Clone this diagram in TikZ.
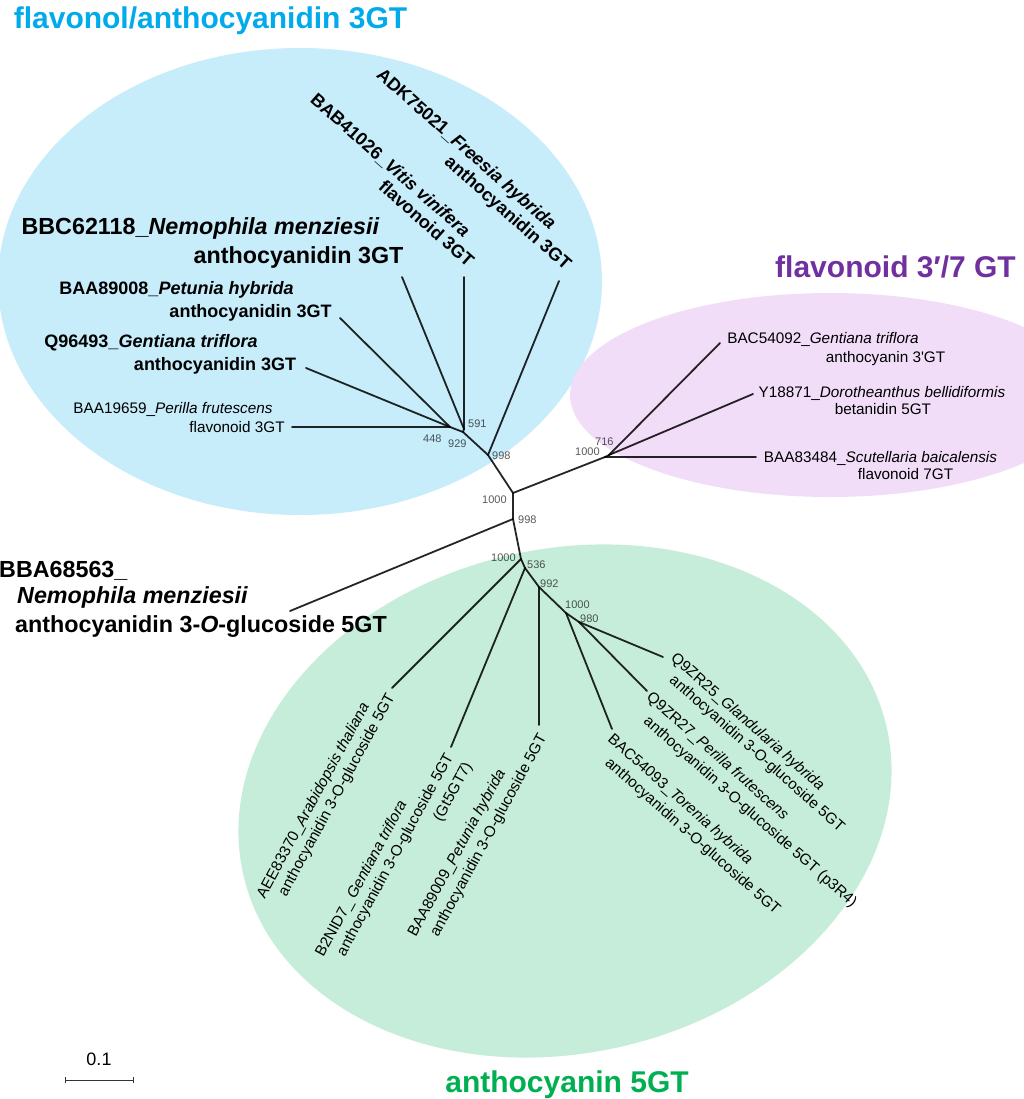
\documentclass[tikz,border=0pt]{standalone}
\usepackage{fontspec}
\setmainfont{Liberation Sans}
\definecolor{bluefill}{RGB}{199,236,250}
\definecolor{purplefill}{RGB}{242,221,249}
\definecolor{greenfill}{RGB}{198,237,218}
\definecolor{bluetitle}{RGB}{0,170,235}
\definecolor{purpletitle}{RGB}{112,48,160}
\definecolor{greentitle}{RGB}{0,176,80}
\tikzset{
 br/.style={draw=black, line width=1.8pt, draw opacity=0.85, line cap=round},
 lab/.style={inner sep=0pt, text=black},
 bigl/.style={lab, font=\fontsize{23.3}{28}\selectfont\bfseries},
 medl/.style={lab, font=\fontsize{18}{21}\selectfont\bfseries},
 sml/.style={lab, font=\fontsize{15.3}{18}\selectfont},
 ttl/.style={inner sep=0pt, anchor=base, font=\fontsize{30}{36}\selectfont\bfseries},
 boot/.style={inner sep=0pt, anchor=base west, font=\fontsize{11}{13}\selectfont, text=black, text opacity=0.65},
}
\begin{document}
\begin{tikzpicture}[x=1pt,y=-1pt]
\useasboundingbox (0,0) rectangle (1024,1099);
\fill[white] (0,0) rectangle (1024,1099);
% cluster ellipses
\fill[bluefill] (300,281.5) ellipse [x radius=302, y radius=233.5];
\fill[purplefill] (830,395) ellipse [x radius=260, y radius=102];
\fill[greenfill, rotate around={13:(565,801)}] (565,801) ellipse [x radius=330, y radius=252];
% titles
\node[ttl, text=bluetitle] (t1) at (210.5,29) {flavonol/anthocyanidin 3GT};
\node[ttl, text=purpletitle] (t2) at (895.5,277) {flavonoid 3′/7 GT};
\node[ttl, text=greentitle] (t3) at (567,1092) {anthocyanin 5GT};
% internal nodes
\coordinate (b998) at (488,455);
\coordinate (c1000) at (513,493);
\coordinate (c998) at (513,519);
\coordinate (g1000) at (521,559);
\coordinate (g536) at (525,568);
\coordinate (g992) at (539,587);
\coordinate (g1000b) at (566,613);
\coordinate (g980) at (579,622);
\coordinate (p1000) at (605,457);
\coordinate (p716) at (609,455);
\coordinate (b929) at (463,432);
\coordinate (b591) at (464,429);
\coordinate (b448) at (450,427);
% tips
\coordinate (tADK) at (559,281);
\coordinate (tBAB) at (464,277);
\coordinate (tBBC) at (402,277);
\coordinate (tBAA08) at (340,318);
\coordinate (tQ96) at (306,368);
\coordinate (tBAA59) at (292,427);
\coordinate (tBAC92) at (720,343);
\coordinate (tY18) at (753,394);
\coordinate (tBAA84) at (756,457);
\coordinate (tBBA) at (290,611);
\coordinate (tAEE) at (392,688);
\coordinate (tB2N) at (451,747);
\coordinate (tBAA09) at (539,725);
\coordinate (tBAC93) at (612,729);
\coordinate (tQ27) at (647,691);
\coordinate (tQ25) at (663,657);
% branches
\draw[br] (b998) -- (c1000) -- (c998) -- (g1000);
\draw[br] (c1000) -- (p1000);
\draw[br] (c998) -- (tBBA);
\draw[br] (b998) -- (tADK);
\draw[br] (b998) -- (b929);
\draw[br] (b929) -- (b448);
\draw[br] (b929) -- (b591);
\draw[br] (b448) -- (tBAA59);
\draw[br] (b448) -- (tQ96);
\draw[br] (b448) -- (tBAA08);
\draw[br] (b591) -- (tBBC);
\draw[br] (b591) -- (tBAB);
\draw[br] (p1000) -- (tBAA84);
\draw[br] (p1000) -- (p716);
\draw[br] (p716) -- (tBAC92);
\draw[br] (p716) -- (tY18);
\draw[br] (g1000) -- (tAEE);
\draw[br] (g1000) -- (g536);
\draw[br] (g536) -- (tB2N);
\draw[br] (g536) -- (g992);
\draw[br] (g992) -- (tBAA09);
\draw[br] (g992) -- (g1000b);
\draw[br] (g1000b) -- (tBAC93);
\draw[br] (g1000b) -- (g980);
\draw[br] (g980) -- (tQ27);
\draw[br] (g980) -- (tQ25);
% bootstrap values
\node[boot] (v998a) at (492,459) {998};
\node[boot] (v1000a) at (482,503) {1000};
\node[boot] (v998b) at (518,523) {998};
\node[boot] (v1000g) at (491,561) {1000};
\node[boot] (v536) at (527,568) {536};
\node[boot] (v992) at (540,587) {992};
\node[boot] (v1000c) at (565,608) {1000};
\node[boot] (v980) at (580,622) {980};
\node[boot] (v1000p) at (575,455) {1000};
\node[boot] (v716) at (595,445) {716};
\node[boot] (v591) at (468,427) {591};
\node[boot] (v448) at (423,442) {448};
\node[boot] (v929) at (448,447) {929};
% blue labels
\node[bigl, anchor=base] (l1a) at (200.5,235) {BBC62118\_\textit{Nemophila menziesii}};
\node[bigl, anchor=base] (l1b) at (298.5,263) {anthocyanidin 3GT};
\node[medl, anchor=base] (l2a) at (176.5,294) {BAA89008\_\textit{Petunia hybrida}};
\node[medl, anchor=base] (l2b) at (250.5,317) {anthocyanidin 3GT};
\node[medl, anchor=base] (l3a) at (151,347) {Q96493\_\textit{Gentiana triflora}};
\node[medl, anchor=base] (l3b) at (215,370) {anthocyanidin 3GT};
\node[sml, anchor=base] (l4a) at (173,413) {BAA19659\_\textit{Perilla frutescens}};
\node[sml, anchor=base] (l4b) at (237,432) {flavonoid 3GT};
\node[medl, rotate=-41.5] (l5a) at (465.7,150) {ADK75021\_\textit{Freesia hybrida}};
\node[medl, rotate=-41.5] (l5b) at (507.3,214) {anthocyanidin 3GT};
\node[medl, rotate=-41.5] (l6a) at (390,165.7) {BAB41026\_\textit{Vitis vinifera}};
\node[medl, rotate=-41.5] (l6b) at (426.7,223.3) {flavonoid 3GT};
% purple labels
\node[sml, anchor=base] (l7a) at (823,343) {BAC54092\_\textit{Gentiana triflora}};
\node[sml, anchor=base] (l7b) at (885.5,362) {anthocyanin 3\textquotesingle GT};
\node[sml, anchor=base] (l8a) at (882,397) {Y18871\_\textit{Dorotheanthus bellidiformis}};
\node[sml, anchor=base] (l8b) at (883,414) {betanidin 5GT};
\node[sml, anchor=base] (l9a) at (880.5,462) {BAA83484\_\textit{Scutellaria baicalensis}};
\node[sml, anchor=base] (l9b) at (905.5,479) {flavonoid 7GT};
% outgroup label
\node[bigl, anchor=base west] (l10a) at (-1,577) {BBA68563\_};
\node[bigl, anchor=base west] (l10b) at (17,603) {\textit{Nemophila menziesii}};
\node[bigl, anchor=base west] (l10c) at (15,632) {anthocyanidin 3-\textit{O}-glucoside 5GT};
% green labels
\node[sml, rotate=61.5] (l11a) at (313.7,800.7) {AEE83370\_\textit{Arabidopsis thaliana}};
\node[sml, rotate=61.5] (l11b) at (337.3,795) {anthocyanidin 3-O-glucoside 5GT};
\node[sml, rotate=61.5] (l12a) at (361.7,879) {B2NID7\_ \textit{Gentiana triflora}};
\node[sml, rotate=61.5] (l12b) at (395.7,855) {anthocyanidin 3-O-glucoside 5GT};
\node[sml, rotate=61.5] (l12c) at (453.3,792.3) {(Gt5GT7)};
\node[sml, rotate=61.5] (l13a) at (457.3,853.3) {BAA89009\_\textit{Petunia hybrida}};
\node[sml, rotate=61.5] (l13b) at (489,835.7) {anthocyanidin 3-O-glucoside 5GT};
\node[sml, rotate=-41.5] (l14a) at (680,800) {BAC54093\_\textit{Torenia hybrida}};
\node[sml, rotate=-41.5] (l14b) at (692.3,836.7) {anthocyanidin 3-O-glucoside 5GT};
\node[sml, rotate=-41.5] (l15a) at (717.3,756.7) {Q9ZR27\_\textit{Perilla frutescens}};
\node[sml, rotate=-41.5] (l15b) at (750,812.3) {anthocyanidin 3-O-glucoside 5GT (p3R4)};
\node[sml, rotate=-41.5] (l16a) at (747.3,722.3) {Q9ZR25\_\textit{Glandularia hybrida}};
\node[sml, rotate=-41.5] (l16b) at (756.7,754) {anthocyanidin 3-O-glucoside 5GT};
% scale bar
\coordinate (sbL) at (65,1080);
\coordinate (sbR) at (133,1080);
\draw[line width=1pt, black!80] (sbL) -- (sbR);
\draw[line width=1pt, black!80] ([yshift=-3pt]sbL) -- ([yshift=3pt]sbL);
\draw[line width=1pt, black!80] ([yshift=-3pt]sbR) -- ([yshift=3pt]sbR);
\node[lab, anchor=base, font=\fontsize{18}{21}\selectfont] (sbt) at (99,1065) {0.1};
\end{tikzpicture}
\end{document}
